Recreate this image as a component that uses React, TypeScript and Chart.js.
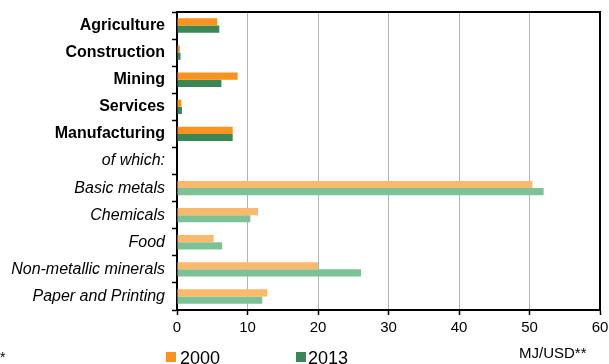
import React, { useEffect, useRef } from "react";
import { Chart, registerables } from "chart.js";

Chart.register(...registerables);

const categories = [
  "Agriculture",
  "Construction",
  "Mining",
  "Services",
  "Manufacturing",
  "of which:",
  "Basic metals",
  "Chemicals",
  "Food",
  "Non-metallic minerals",
  "Paper and Printing",
];
const sectorCount = 5; // first rows are main sectors (bold, dark colours)
const values2000 = [5.7, 0.4, 8.6, 0.6, 7.9, null, 50.4, 11.5, 5.2, 20.0, 12.8];
const values2013 = [6.0, 0.5, 6.3, 0.7, 7.9, null, 52.0, 10.4, 6.4, 26.1, 12.1];
const xTicks = [0, 10, 20, 30, 40, 50, 60];
const seriesLabels = ["2000", "2013"];
const unitLabel = "MJ/USD**";

const ORANGE_DARK = "#F7931E";
const ORANGE_LIGHT = "#FBB96C";
const GREEN_DARK = "#3B8655";
const GREEN_LIGHT = "#7CC296";
const FONT = '"Liberation Sans", Arial, sans-serif';

const framePlugin = {
  id: "frame",
  afterDraw(chart: any) {
    const { ctx, chartArea } = chart;
    ctx.save();
    ctx.strokeStyle = "#000";
    ctx.lineWidth = 2;
    ctx.beginPath();
    ctx.moveTo(chartArea.left, chartArea.top);
    ctx.lineTo(chartArea.right, chartArea.top);
    ctx.lineTo(chartArea.right, chartArea.bottom);
    ctx.stroke();
    ctx.restore();
  },
};

export default function App() {
  const canvasRef = useRef<HTMLCanvasElement | null>(null);

  useEffect(() => {
    if (!canvasRef.current) return;
    const colors = (dark: string, light: string) =>
      categories.map((_, i) => (i < sectorCount ? dark : light));
    const chart = new Chart(canvasRef.current, {
      type: "bar",
      data: {
        labels: categories,
        datasets: [
          {
            label: seriesLabels[0],
            data: values2000 as any,
            backgroundColor: colors(ORANGE_DARK, ORANGE_LIGHT),
            barPercentage: 1,
            categoryPercentage: 0.53,
          },
          {
            label: seriesLabels[1],
            data: values2013 as any,
            backgroundColor: colors(GREEN_DARK, GREEN_LIGHT),
            barPercentage: 1,
            categoryPercentage: 0.53,
          },
        ],
      },
      options: {
        indexAxis: "y",
        responsive: false,
        animation: false,
        layout: { padding: { top: 12, right: 9, left: 0, bottom: 24 } },
        plugins: {
          legend: { display: false },
          tooltip: { enabled: false },
        },
        scales: {
          x: {
            min: 0,
            max: 60,
            afterBuildTicks: (scale: any) => {
              scale.ticks = xTicks.map((v) => ({ value: v }));
            },
            afterFit: (scale: any) => {
              scale.height = 30;
              scale.paddingLeft = 0;
              scale.paddingRight = 0;
            },
            ticks: {
              color: "#000",
              font: { family: FONT, size: 15 },
              padding: 4,
            },
            grid: {
              color: (ctx: any) =>
                ctx.tick && (ctx.tick.value === 0 || ctx.tick.value === 60)
                  ? "rgba(0,0,0,0)"
                  : "#B4B4B4",
              lineWidth: 1,
              tickColor: "#000",
              tickLength: 5,
              tickWidth: 1.5,
            },
            border: { display: true, color: "#000", width: 2 },
          },
          y: {
            afterFit: (scale: any) => {
              scale.width = 177;
              scale.paddingTop = 0;
              scale.paddingBottom = 0;
            },
            ticks: {
              color: "#000",
              padding: 7,
              autoSkip: false,
              font: (ctx: any) =>
                ctx.index < sectorCount
                  ? { family: FONT, size: 16, weight: "bold" }
                  : { family: FONT, size: 16, style: "italic" },
            },
            grid: {
              offset: true,
              drawOnChartArea: false,
              drawTicks: true,
              tickLength: 5,
              tickColor: "#000",
              tickWidth: 1.5,
              color: "#000",
            },
            border: { display: true, color: "#000", width: 2 },
          },
        },
      },
      plugins: [framePlugin],
    } as any);
    return () => chart.destroy();
  }, []);

  const textStyle: React.CSSProperties = {
    position: "absolute",
    fontFamily: FONT,
    color: "#000",
    whiteSpace: "nowrap",
    lineHeight: 1,
  };

  return (
    <div
      style={{
        position: "absolute",
        left: 0,
        top: 0,
        width: 609,
        height: 364,
        overflow: "hidden",
        background: "#fff",
      }}
    >
      <canvas ref={canvasRef} width={609} height={364} style={{ display: "block" }} />
      <div style={{ ...textStyle, left: 0, top: 350, fontSize: 14 }}>*</div>
      <div style={{ position: "absolute", left: 166, top: 352, width: 10, height: 10, background: ORANGE_DARK }} />
      <div style={{ ...textStyle, left: 180, top: 349, fontSize: 18 }}>{seriesLabels[0]}</div>
      <div style={{ position: "absolute", left: 296, top: 352, width: 10, height: 10, background: GREEN_DARK }} />
      <div style={{ ...textStyle, left: 308, top: 349, fontSize: 18 }}>{seriesLabels[1]}</div>
      <div style={{ ...textStyle, left: 519, top: 345, fontSize: 15 }}>{unitLabel}</div>
    </div>
  );
}
